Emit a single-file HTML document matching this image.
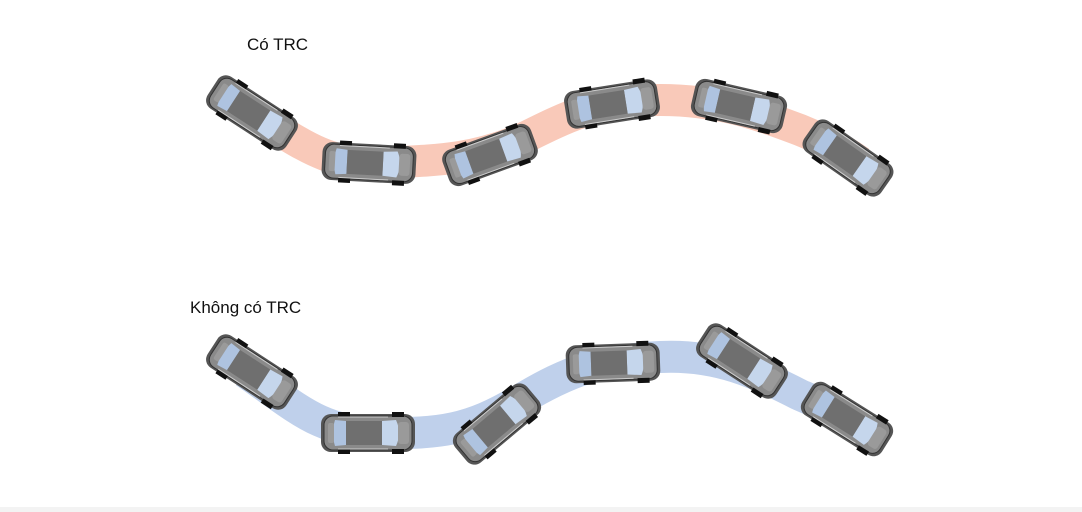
<!DOCTYPE html>
<html><head><meta charset="utf-8"><style>
html,body{margin:0;padding:0;background:#fff;width:1082px;height:512px;overflow:hidden}
</style></head><body>
<svg width="1082" height="512" viewBox="0 0 1082 512" xmlns="http://www.w3.org/2000/svg">
<defs>
<g id="car">
  <rect x="-47" y="-19" width="94" height="38" rx="10" fill="#555"/>
  <rect x="-44" y="-17" width="88" height="34" rx="9" fill="#8a8a8a" stroke="#333" stroke-width="1"/>
  <rect x="-30" y="-21" width="12" height="5" fill="#111"/>
  <rect x="-30" y="16" width="12" height="5" fill="#111"/>
  <rect x="24" y="-21" width="12" height="5" fill="#111"/>
  <rect x="24" y="16" width="12" height="5" fill="#111"/>
  <path d="M-33,-13 L-22,-12 L-22,12 L-33,13 Q-37,0 -33,-13Z" fill="#aec3e0"/>
  <path d="M14,-12 L28,-13 Q34,0 28,13 L14,12Z" fill="#c5d6ec"/>
  <rect x="-22" y="-12" width="36" height="24" fill="#6f6f6f"/>
  <rect x="-40" y="-10" width="6" height="20" rx="2" fill="#9a9a9a"/>
  <rect x="30" y="-11" width="11" height="22" rx="3" fill="#9a9a9a"/>
  <line x1="-30" y1="-16" x2="20" y2="-16" stroke="#ccc" stroke-width="1"/>
  <line x1="-30" y1="16" x2="20" y2="16" stroke="#ccc" stroke-width="1"/>
</g>
</defs>
<path d="M240,108 C300,140 320,165 380,163 C440,160 470,160 520,140 C570,115 600,100 660,100 C720,100 760,115 800,130 C830,142 850,155 860,162" fill="none" stroke="#f9c9b9" stroke-width="32"/>
<path d="M245,372 C300,410 320,432 380,433 C440,434 470,430 520,400 C570,370 600,360 660,357 C720,354 760,375 800,395 C830,408 850,418 860,424" fill="none" stroke="#bfd0eb" stroke-width="32"/>

<use href="#car" transform="translate(252,113) rotate(33)"/>
<use href="#car" transform="translate(369,163) rotate(3)"/>
<use href="#car" transform="translate(490,155) rotate(-20)"/>
<use href="#car" transform="translate(612,104) rotate(-9)"/>
<use href="#car" transform="translate(739,106) rotate(13)"/>
<use href="#car" transform="translate(848,158) rotate(35)"/>

<use href="#car" transform="translate(252,372) rotate(33)"/>
<use href="#car" transform="translate(368,433) rotate(0)"/>
<use href="#car" transform="translate(497,424) rotate(-40)"/>
<use href="#car" transform="translate(613,363) rotate(-2)"/>
<use href="#car" transform="translate(742,361) rotate(33)"/>
<use href="#car" transform="translate(847,419) rotate(32)"/>

<text x="247" y="50" font-family="Liberation Sans, sans-serif" font-size="17" fill="#111">Có TRC</text>
<text x="190" y="313" font-family="Liberation Sans, sans-serif" font-size="17" fill="#111">Không có TRC</text>
<rect x="0" y="507" width="1082" height="5" fill="#f3f3f3"/>
</svg>
</body></html>
